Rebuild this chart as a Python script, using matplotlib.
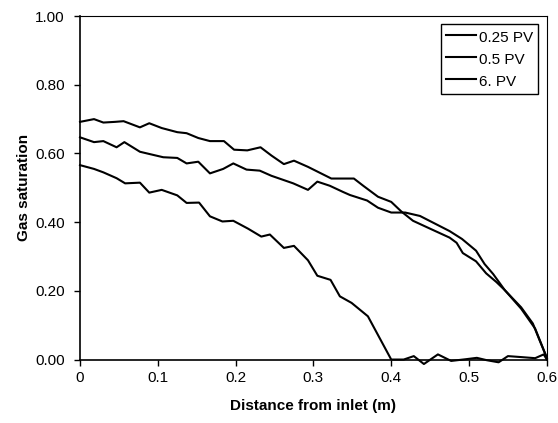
import matplotlib
matplotlib.use("Agg")
import matplotlib.pyplot as plt

plt.rcParams['font.family'] = ['Liberation Sans', 'DejaVu Sans']

# ---- data ----
labels = ["0.25 PV", "0.5 PV", "6. PV"]

x_025 = [0.000, 0.018, 0.030, 0.047, 0.058, 0.077, 0.089, 0.105, 0.125, 0.137,
         0.153, 0.167, 0.183, 0.197, 0.216, 0.233, 0.244, 0.262, 0.275, 0.293,
         0.305, 0.322, 0.334, 0.349, 0.370, 0.400, 0.416, 0.429, 0.442, 0.460,
         0.477, 0.496, 0.510, 0.523, 0.538, 0.550, 0.568, 0.585, 0.596, 0.600]
y_025 = [0.566, 0.555, 0.545, 0.528, 0.513, 0.515, 0.486, 0.494, 0.478, 0.456,
         0.457, 0.417, 0.402, 0.404, 0.381, 0.358, 0.364, 0.325, 0.331, 0.289,
         0.244, 0.232, 0.184, 0.165, 0.126, 0.000, 0.000, 0.010, -0.013, 0.015,
         -0.004, 0.001, 0.005, -0.002, -0.008, 0.010, 0.007, 0.004, 0.015, 0.000]

x_05 = [0.000, 0.018, 0.030, 0.047, 0.057, 0.077, 0.090, 0.107, 0.125, 0.137,
        0.152, 0.167, 0.184, 0.197, 0.214, 0.231, 0.246, 0.274, 0.293, 0.305,
        0.321, 0.338, 0.347, 0.369, 0.383, 0.400, 0.418, 0.437, 0.456, 0.475,
        0.491, 0.509, 0.520, 0.531, 0.546, 0.567, 0.582, 0.590, 0.600]
y_05 = [0.647, 0.633, 0.636, 0.618, 0.633, 0.605, 0.598, 0.589, 0.587, 0.571,
        0.576, 0.542, 0.555, 0.571, 0.553, 0.550, 0.535, 0.513, 0.494, 0.518,
        0.506, 0.488, 0.479, 0.463, 0.442, 0.428, 0.428, 0.418, 0.396, 0.374,
        0.351, 0.317, 0.278, 0.249, 0.202, 0.152, 0.105, 0.060, 0.005]

x_6 = [0.000, 0.018, 0.030, 0.045, 0.056, 0.077, 0.089, 0.105, 0.125, 0.137,
       0.152, 0.167, 0.185, 0.198, 0.215, 0.232, 0.246, 0.262, 0.275, 0.293,
       0.323, 0.352, 0.364, 0.383, 0.400, 0.413, 0.428, 0.449, 0.475, 0.484,
       0.492, 0.509, 0.522, 0.535, 0.546, 0.567, 0.585, 0.600]
y_6 = [0.692, 0.700, 0.690, 0.692, 0.694, 0.676, 0.688, 0.674, 0.662, 0.659,
       0.645, 0.636, 0.636, 0.611, 0.609, 0.618, 0.594, 0.569, 0.579, 0.561,
       0.527, 0.527, 0.506, 0.474, 0.459, 0.431, 0.404, 0.382, 0.355, 0.340,
       0.310, 0.286, 0.251, 0.226, 0.202, 0.148, 0.090, 0.005]

xticks = [0, 0.1, 0.2, 0.3, 0.4, 0.5, 0.6]
xticklabels = ["0", "0.1", "0.2", "0.3", "0.4", "0.5", "0.6"]
yticks = [0.0, 0.2, 0.4, 0.6, 0.8, 1.0]
yticklabels = ["0.00", "0.20", "0.40", "0.60", "0.80", "1.00"]

# ---- figure ----
fig = plt.figure(figsize=(5.58, 4.23), dpi=100)
ax = fig.add_axes([0.1434, 0.150, 0.980 - 0.1434, 0.962 - 0.150])

for xs, ys, lab in zip([x_025, x_05, x_6], [y_025, y_05, y_6], labels):
    ax.plot(xs, ys, color='black', lw=1.5, label=lab, clip_on=False, zorder=3)

ax.set_xlim(0, 0.6)
ax.set_ylim(0, 1.0)
ax.set_xticks(xticks)
ax.set_xticklabels(xticklabels)
ax.set_yticks(yticks)
ax.set_yticklabels(yticklabels)
ax.tick_params(axis='both', labelsize=11, direction='out', length=4, width=1, color='black')
ax.tick_params(axis='x', pad=4)
ax.tick_params(axis='y', pad=7)

for side in ['left', 'bottom']:
    ax.spines[side].set_linewidth(1.2)
    ax.spines[side].set_color('black')
for side in ['top', 'right']:
    ax.spines[side].set_linewidth(0.8)
    ax.spines[side].set_color('black')

ax.set_xlabel("Distance from inlet (m)", fontsize=11, fontweight='bold', labelpad=10)
ax.set_ylabel("Gas saturation", fontsize=11, fontweight='bold', labelpad=3)

leg = ax.legend(loc='upper right', bbox_to_anchor=(0.964, 0.943),
                bbox_transform=fig.transFigure, fontsize=11, frameon=True,
                fancybox=False, edgecolor='black', framealpha=1,
                handlelength=2.0, handleheight=1.3, handletextpad=0.2,
                labelspacing=0.35, borderpad=0.3, borderaxespad=0)
leg.get_frame().set_linewidth(1.0)

fig.savefig("out.png", dpi=100)
